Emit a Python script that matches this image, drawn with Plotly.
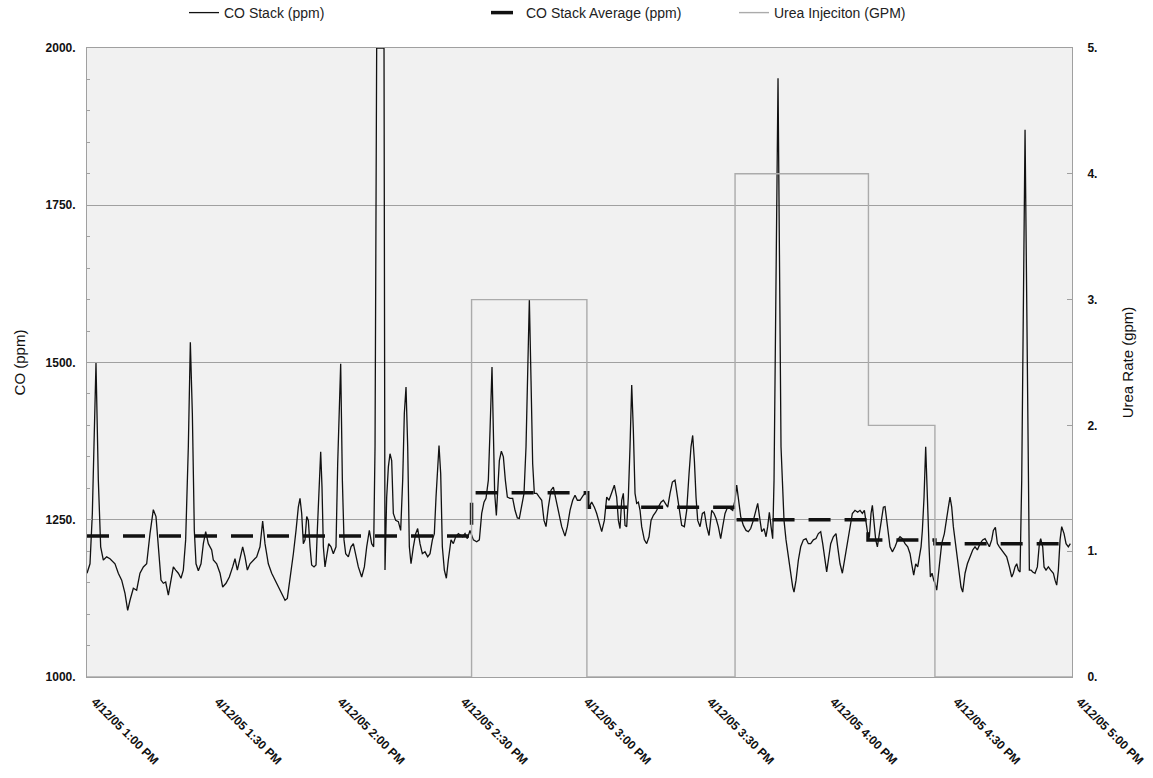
import pandas as pd
import plotly.graph_objects as go

start = pd.Timestamp("2005-04-12 13:00")

# CO Stack (ppm): minutes after 1:00 PM and value
co_minutes = [
    0, 0.73, 1.30, 2.19, 2.76, 3.33, 3.98, 4.79, 5.60, 6.82, 7.63, 8.45, 9.26, 9.91, 10.48, 11.29,
    12.10, 12.91, 13.73, 14.54, 15.35, 16.16, 16.81, 17.38, 18.03, 18.60, 19.17, 19.82, 20.47, 21.04,
    21.61, 22.25, 22.90, 23.47, 24.04, 24.69, 25.18, 25.67, 26.15, 26.56, 27.13, 27.78, 28.35, 28.92,
    29.56, 30.38, 30.78, 31.60, 32.41, 33.06, 33.87, 34.68, 35.49, 36.06, 36.63, 37.28, 37.93, 38.50,
    39.07, 39.72, 40.53, 41.34, 42.15, 42.80, 43.37, 44.18, 45.00, 45.81, 46.62, 47.43, 48.25, 48.81,
    49.46, 50.28, 50.93, 51.49, 51.90, 52.31, 52.71, 53.12, 53.53, 53.93, 54.34, 54.74, 55.31, 55.80,
    56.12, 56.53, 56.94, 57.26, 57.59, 57.99, 58.40, 58.89, 59.45, 60.02, 60.67, 61.08,
    61.81, 62.22, 62.62, 63.03, 63.68, 64.33, 64.90, 65.47, 66.11, 66.93, 67.58, 68.15, 68.79, 69.36,
    69.85, 70.18, 70.58, 72.37, 72.61, 73.02, 73.43, 73.83, 74.24, 74.64, 75.21, 75.86, 76.43, 76.92,
    77.32, 77.73, 78.14, 78.54, 78.95, 79.52, 80.09, 80.57, 81.14, 81.71, 82.36, 83.01, 83.58, 84.15,
    84.63, 85.04, 85.45, 85.77, 86.18, 86.58, 87.07, 87.56, 88.04, 88.69, 89.26, 89.83, 90.48,
    91.54, 92.11, 92.67, 93.32, 94.14, 94.95, 95.60, 96.17, 96.73, 97.22, 97.79, 98.20, 98.68, 99.01,
    99.33, 99.74, 100.07, 100.47, 100.96, 101.45, 101.93, 102.42, 103.07, 103.72, 104.29, 104.86,
    105.34, 105.91, 106.48, 106.97, 107.37, 107.78, 108.19, 108.59, 109.00, 109.57, 110.22, 110.79,
    111.35, 111.84, 112.41, 113.06, 113.63, 114.28, 114.85, 115.66, 116.47, 117.04, 117.69, 118.34,
    118.91, 119.48, 120.13, 120.94, 121.59,
    122.32, 122.97, 123.62, 124.19, 124.76, 125.41, 126.06, 126.63, 127.19, 127.84, 128.49, 129.06,
    129.47, 129.87, 130.28, 130.68, 131.09, 131.50, 131.90, 132.31, 132.72, 133.12, 133.53, 133.93,
    134.34, 134.75, 135.15, 135.80, 136.37, 136.94, 137.43, 138.00, 138.56, 139.21, 139.86, 140.43,
    141.00, 141.49, 142.06, 142.63, 143.27, 143.84, 144.33, 144.90, 145.55, 146.12, 146.69, 147.17,
    147.58, 147.99, 148.39, 148.80, 149.37, 149.94, 150.42, 150.99, 151.56,
    152.21, 152.78, 153.27, 153.83, 154.40, 154.89, 155.46, 156.03, 156.68, 157.33, 157.89, 158.30,
    158.71, 159.28, 159.93, 160.58, 161.14, 161.71, 162.36, 162.93, 163.42, 163.99, 164.39, 164.96,
    165.45, 165.85, 166.26, 166.67, 167.07, 167.40, 168.37, 169.10, 169.51, 169.83, 170.32, 170.89,
    171.46, 171.95, 172.27, 172.76, 173.33, 173.90, 174.55, 175.19, 175.76, 176.33, 176.98, 177.63,
    178.20, 178.77, 179.26, 179.82, 180.23, 180.64, 181.21, 181.85, 182.50,
    182.91, 183.48, 184.05, 184.70, 185.35, 185.92, 186.48, 187.13, 187.78, 188.35, 188.92, 189.41,
    189.81, 190.22, 190.63, 191.03, 191.36, 191.76, 192.17, 192.58, 192.98, 193.47, 194.04, 194.44,
    194.85, 195.26, 195.66, 196.23, 196.88, 197.53, 198.10, 198.67, 199.32, 199.97, 200.54, 200.94,
    201.43, 201.92, 202.41, 202.81, 203.22, 203.54, 203.95, 204.35, 204.76, 205.17, 205.49, 205.90,
    206.30, 206.63, 207.03, 207.44, 207.85, 208.25, 208.90, 209.47, 209.88, 210.28, 210.69, 211.09,
    211.66, 212.31, 212.96,
    213.37, 213.94, 214.51, 215.16, 215.81, 216.37, 216.94, 217.59, 218.24, 218.81, 219.38, 219.87,
    220.43, 220.84, 221.33, 221.82, 222.30, 222.87, 223.44, 224.09, 224.74, 225.31, 225.71, 226.12,
    226.53, 226.93, 227.34, 227.75, 228.56, 229.37, 229.61, 230.02, 230.43, 230.99, 231.56, 232.05,
    232.37, 232.86, 233.19, 233.67, 234.24, 234.81, 235.46, 235.87, 236.27, 236.68, 237.09, 237.49,
    238.06, 238.55, 239.11, 239.60,
]
co_ppm = [
    1165, 1180, 1260, 1499, 1313, 1207, 1186, 1191, 1188, 1180, 1165, 1154, 1133, 1106, 1122, 1141,
    1138, 1165, 1175, 1180, 1228, 1266, 1255, 1207, 1154, 1149, 1151, 1130, 1154, 1175,
    1170, 1165, 1157, 1170, 1218, 1366, 1532, 1419, 1233, 1180, 1169, 1180, 1212, 1231,
    1212, 1202, 1186, 1180, 1165, 1143, 1149, 1159, 1175, 1188, 1170, 1191, 1207, 1191,
    1170, 1180, 1186, 1191, 1207, 1248, 1212, 1180, 1165, 1154, 1143, 1133, 1122, 1125,
    1154, 1196, 1233, 1270, 1284, 1260, 1212, 1218, 1255, 1249, 1207, 1178, 1175, 1178,
    1233, 1313, 1358, 1302, 1207, 1175, 1191, 1212, 1207, 1196, 1207, 1339,
    1498, 1313, 1218, 1196, 1191, 1207, 1212, 1196, 1175, 1159, 1175, 1207, 1233, 1212,
    1207, 1366, 2000, 2000, 1170, 1286, 1334, 1355, 1344, 1260, 1249, 1247, 1233, 1313,
    1419, 1461, 1366, 1207, 1180, 1207, 1228, 1236, 1212, 1196, 1199, 1191, 1196, 1218,
    1228, 1286, 1344, 1368, 1323, 1207, 1170, 1157, 1186, 1218, 1212, 1223, 1228,
    1223, 1228, 1220, 1233, 1218, 1215, 1218, 1260, 1278, 1284, 1313, 1392, 1493, 1392,
    1292, 1257, 1302, 1344, 1359, 1350, 1313, 1286, 1284, 1284, 1265, 1253,
    1252, 1270, 1292, 1366, 1498, 1600, 1471, 1339, 1292, 1292, 1286, 1281,
    1249, 1239, 1270, 1297, 1302, 1281, 1260, 1239, 1224, 1239, 1265, 1281,
    1289, 1281, 1281, 1289, 1293,
    1270, 1278, 1270, 1260, 1244, 1231, 1249, 1286, 1281, 1292, 1305, 1286,
    1249, 1236, 1281, 1292, 1241, 1239, 1286, 1366, 1464, 1392, 1292, 1276,
    1278, 1265, 1239, 1218, 1212, 1223, 1249, 1257, 1262, 1270, 1278, 1281,
    1276, 1270, 1292, 1310, 1313, 1286, 1260, 1241, 1239, 1265, 1323, 1366,
    1384, 1344, 1286, 1249, 1239, 1260, 1262, 1239, 1225,
    1265, 1260, 1252, 1239, 1220, 1239, 1260, 1269, 1268, 1265, 1281, 1305,
    1281, 1255, 1241, 1233, 1231, 1236, 1249, 1265, 1276, 1249, 1231, 1236,
    1223, 1239, 1262, 1239, 1220, 1313, 1952, 1366, 1286, 1249, 1218, 1191,
    1165, 1143, 1135, 1154, 1186, 1207, 1218, 1220, 1212, 1212, 1218, 1220,
    1228, 1231, 1212, 1180, 1167, 1186, 1212, 1223, 1228,
    1207, 1180, 1165, 1191, 1218, 1239, 1260, 1265, 1262, 1265, 1260, 1265,
    1249, 1228, 1223, 1260, 1273, 1249, 1218, 1207, 1223, 1249, 1270, 1271,
    1249, 1223, 1207, 1199, 1207, 1218, 1223, 1220, 1212, 1207, 1196, 1180,
    1162, 1180, 1175, 1191, 1207, 1233, 1286, 1366, 1270, 1207, 1159, 1165,
    1154, 1149, 1138, 1165, 1191, 1212, 1228, 1249, 1270, 1286, 1270, 1239,
    1207, 1170, 1143,
    1135, 1165, 1180, 1191, 1202, 1207, 1202, 1212, 1218, 1220, 1212, 1207,
    1218, 1233, 1238, 1212, 1207, 1202, 1196, 1191, 1175, 1159, 1165, 1175,
    1180, 1170, 1167, 1313, 1870, 1313, 1170, 1170, 1167, 1165, 1175, 1212,
    1220, 1207, 1175, 1170, 1175, 1170, 1165, 1154, 1146, 1170, 1218, 1239,
    1228, 1212, 1207, 1212,
]

# CO Stack Average (ppm), step series
avg_minutes = [0, 93.7, 122.0, 158.0, 190.3, 206.6, 240.0]
avg_ppm = [1224, 1293, 1270, 1250, 1218, 1212, 1212]

# Urea injection (GPM), step series
urea_minutes = [0, 93.7, 121.8, 157.9, 190.4, 206.6, 240.0]
urea_gpm = [0, 3, 0, 4, 2, 0, 0]

y_left_ticks = [1000, 1250, 1500, 1750, 2000]
y_left_text = ["1000.", "1250.", "1500.", "1750.", "2000."]
y_right_ticks = [0, 1, 2, 3, 4, 5]
y_right_text = ["0.", "1.", "2.", "3.", "4.", "5."]


def to_time(mins):
    return [start + pd.Timedelta(minutes=m) for m in mins]


FONT = "Liberation Sans, Arial, sans-serif"
GRAY = "#a0a0a0"

fig = go.Figure()

fig.add_trace(go.Scatter(
    x=to_time(co_minutes), y=co_ppm, mode="lines", name="CO Stack (ppm)",
    line=dict(color="#111111", width=1.3), legend="legend"))

fig.add_trace(go.Scatter(
    x=to_time(avg_minutes), y=avg_ppm, mode="lines", name="CO Stack Average (ppm)",
    line=dict(color="#111111", width=3.5, dash="22px,14px", shape="hv"), legend="legend2"))

fig.add_trace(go.Scatter(
    x=to_time(urea_minutes), y=urea_gpm, mode="lines", name="Urea Injeciton (GPM)",
    line=dict(color="#ababab", width=1.4, shape="hv"), yaxis="y2", legend="legend3"))

# page body margin is removed below, so pixels map directly; plot box x 87..1072, y 48..677
W, H = 1153, 778
L, T = 87, 48
R = W - 1072
B = H - 677


def cx(px):
    return px / W


def cy(py):
    return 1 - py / H


legend_common = dict(orientation="h", yref="container", y=cy(13), yanchor="middle",
                     xref="container", xanchor="left",
                     font=dict(family=FONT, size=14, color="#222"), bgcolor="rgba(0,0,0,0)")

fig.update_layout(
    width=W, height=H,
    margin=dict(l=L, r=R, t=T, b=B, autoexpand=False),
    paper_bgcolor="white",
    plot_bgcolor="#f1f1f1",
    showlegend=True,
    font=dict(family=FONT, color="#111"),
    legend=dict(x=cx(184), **legend_common),
    legend2=dict(x=cx(486), **legend_common),
    legend3=dict(x=cx(734), **legend_common),
    xaxis=dict(
        type="date", automargin=False,
        range=[start, start + pd.Timedelta(minutes=240)],
        tick0=start, dtick=30 * 60 * 1000,
        tickformat="%-m/%d/%y %-I:%M %p",
        tickangle=45,
        tickfont=dict(family=FONT, size=12, color="#111", weight="bold"),
        showgrid=False, showline=True, linecolor=GRAY, linewidth=1,
        mirror=True, ticks="", zeroline=False, ticklabelstandoff=12, ticklabelshift=8,
    ),
    yaxis=dict(
        automargin=False,
        range=[1000, 2000], tickvals=y_left_ticks, ticktext=y_left_text,
        tickfont=dict(family=FONT, size=12, color="#111", weight="bold"),
        title=dict(text="CO (ppm)", font=dict(family=FONT, size=15, color="#111"), standoff=16),
        showgrid=True, gridcolor=GRAY, gridwidth=1,
        showline=True, linecolor=GRAY, linewidth=1,
        ticks="inside", ticklen=5, tickcolor=GRAY, ticklabelstandoff=8,
        minor=dict(dtick=50, ticks="inside", ticklen=3, tickcolor=GRAY, showgrid=False),
        zeroline=False,
    ),
    yaxis2=dict(
        automargin=False,
        overlaying="y", side="right", range=[0, 5], tickvals=y_right_ticks, ticktext=y_right_text,
        tickfont=dict(family=FONT, size=12, color="#111", weight="bold"),
        title=dict(text="Urea Rate (gpm)", font=dict(family=FONT, size=15, color="#111"), standoff=26),
        showgrid=False, showline=True, linecolor=GRAY, linewidth=1,
        ticks="inside", ticklen=5, tickcolor=GRAY, zeroline=False, ticklabelstandoff=12,
    ),
)

fig.write_html(
    "out.html",
    include_plotlyjs=True,
    config={"displayModeBar": False},
    post_script="document.body.style.margin='0';document.body.style.overflow='hidden';",
)
